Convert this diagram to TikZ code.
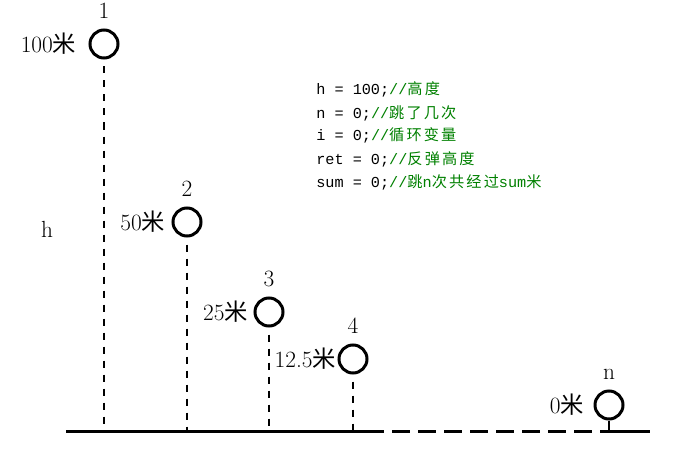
\documentclass[tikz,border=0pt]{standalone}
\usepackage{fontspec}
\setmonofont{Liberation Mono}
\newfontfamily\cjk{Noto Sans CJK SC}
\newfontfamily\cjkcode[LetterSpace=14]{Noto Sans CJK SC}
\usepackage{tikz}
\usetikzlibrary{positioning}
\definecolor{codegreen}{HTML}{008000}
\newcommand\cmt[1]{\textcolor{codegreen}{#1}}

\begin{document}
\begin{tikzpicture}[
  x=0.75pt, y=-0.75pt,
  ball/.style={
    circle, draw, line width=2.25pt,
    minimum size=21pt, inner sep=0pt,
  },
  bigtext/.style={inner sep=0pt, font=\fontsize{17.5pt}{21pt}\selectfont},
  drop/.style={line width=2.2pt, dash pattern=on 5.25pt off 5.25pt, dash phase=5.25pt},
  stub/.style={line width=2.2pt},
  ground/.style={line width=2.25pt},
  code/.style={inner sep=0pt, anchor=base west, font=\fontsize{11.4pt}{17pt}\ttfamily},
  ]
  \useasboundingbox (0,0) rectangle (673,449);
  % ground
  \coordinate (gl) at (66,431);
  \coordinate (gapl) at (384,431);
  \coordinate (gapr) at (600,431);
  \coordinate (gr) at (650,431);
  \draw[ground] (gl) -- (gapl);
  \draw[ground, dash pattern=on 13.5pt off 6pt, dash phase=13.5pt] (gapl) -- (gapr);
  \draw[ground] (gapr) -- (gr);
  % balls
  \foreach \i/\x/\y/\gap/\hgt/\sty in
  {1/104/44/9pt/100/drop, 2/187/222/4.5pt/50/drop, 3/269/312/4pt/25/drop,
   4/353/359/1pt/12.5/drop, n/609/405/7pt/0/stub}
  {
    \node[ball] (b\i) at (\x,\y) {};
    \node[bigtext, above=7pt of b\i] (num\i) {\i};
    \node[bigtext, left=\gap of b\i] (hgt\i) {\hgt{\cjk 米}};
    \coordinate (foot\i) at (b\i |- gl);
    \draw[\sty] (b\i) -- (foot\i);
  }
  \node[bigtext] (h) at (47,229) {h};
  % code
  \foreach \k/\txt in
  {0/{h = 100;\cmt{//{\cjkcode 高度}}},
   1/{n = 0;\cmt{//{\cjkcode 跳了几次}}},
   2/{i = 0;\cmt{//{\cjkcode 循环变量}}},
   3/{ret = 0;\cmt{//{\cjkcode 反弹高度}}},
   4/{sum = 0;\cmt{//{\cjkcode 跳}n{\cjkcode 次共经过}sum{\cjkcode 米}}}}
  {
    \node[code] (line\k) at (316,{95+23*\k}) {\txt};
  }
\end{tikzpicture}
\end{document}
